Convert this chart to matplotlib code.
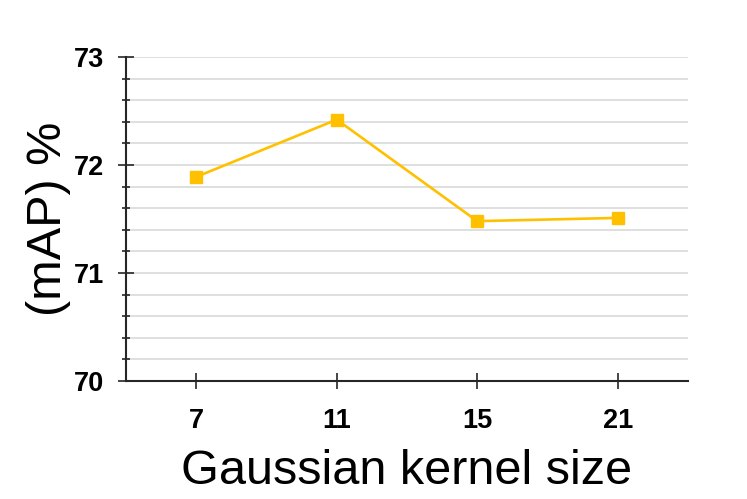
import matplotlib
matplotlib.use("Agg")
import matplotlib.pyplot as plt
from matplotlib.ticker import MultipleLocator

# data
kernel_sizes = ["7", "11", "15", "21"]
map_values = [71.89, 72.42, 71.48, 71.51]

plt.rcParams['font.family'] = ['Liberation Sans', 'DejaVu Sans']

fig = plt.figure(figsize=(7.47, 4.99), dpi=100)
ax = fig.add_axes([0.1687, 0.2365, 0.7523, 0.6493])

x_pos = list(range(len(kernel_sizes)))
ax.plot(x_pos, map_values, color='#FFC000', linewidth=1.9,
        marker='s', markersize=8.5, markerfacecolor='#FFC000',
        markeredgecolor='#FFC000', zorder=3)

ax.set_xlim(-0.5, 3.5)
ax.set_ylim(70, 73)
ax.set_xticks(x_pos)
ax.set_xticklabels(kernel_sizes)
ax.yaxis.set_major_locator(MultipleLocator(1))
ax.yaxis.set_minor_locator(MultipleLocator(0.2))

ax.grid(True, which='both', axis='y', color='#D9D9D9', linewidth=1.2, zorder=0)
ax.set_axisbelow(True)

for side in ['top', 'right']:
    ax.spines[side].set_visible(False)
for side in ['left', 'bottom']:
    ax.spines[side].set_color('#262626')
    ax.spines[side].set_linewidth(1.5)

ax.tick_params(axis='y', which='major', direction='inout', length=11.5, width=1.2,
               color='#262626', labelsize=19.5, pad=10)
ax.tick_params(axis='y', which='minor', direction='inout', length=5.5, width=1.2,
               color='#262626')
ax.tick_params(axis='x', which='major', direction='inout', length=11, width=1.2,
               color='#262626', labelsize=19.5, pad=14)
for lbl in ax.get_xticklabels() + ax.get_yticklabels():
    lbl.set_fontweight('bold')

ax.set_xlabel('Gaussian kernel size', fontsize=35, labelpad=11)
ax.set_ylabel('(mAP) %', fontsize=35, labelpad=2)

fig.savefig('out.png', dpi=100)
